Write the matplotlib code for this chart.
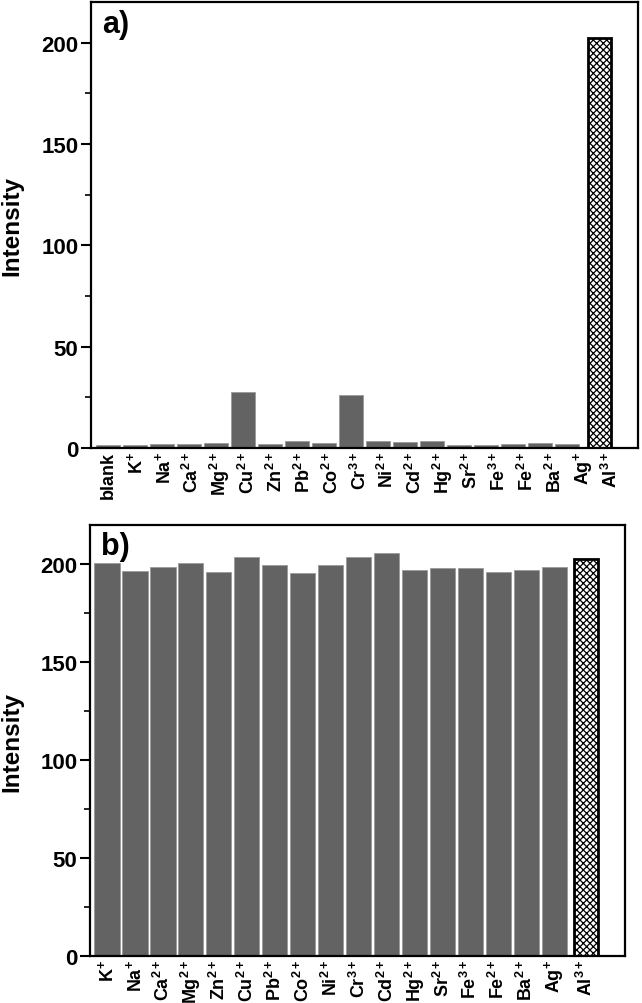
import numpy as np
import matplotlib
matplotlib.use("Agg")
import matplotlib.pyplot as plt
from matplotlib.ticker import MultipleLocator

plt.rcParams['font.family'] = ['Liberation Sans', 'DejaVu Sans']
plt.rcParams['font.weight'] = 'bold'
plt.rcParams['mathtext.fontset'] = 'custom'
plt.rcParams['mathtext.rm'] = 'Liberation Sans:bold'
plt.rcParams['mathtext.bf'] = 'Liberation Sans:bold'
plt.rcParams['mathtext.it'] = 'Liberation Sans:bold'
plt.rcParams['hatch.linewidth'] = 0.9

# ---- Data ----
labels_a = ['blank', r'$\mathbf{K^{+}}$', r'$\mathbf{Na^{+}}$', r'$\mathbf{Ca^{2+}}$', r'$\mathbf{Mg^{2+}}$',
            r'$\mathbf{Cu^{2+}}$', r'$\mathbf{Zn^{2+}}$', r'$\mathbf{Pb^{2+}}$', r'$\mathbf{Co^{2+}}$',
            r'$\mathbf{Cr^{3+}}$', r'$\mathbf{Ni^{2+}}$', r'$\mathbf{Cd^{2+}}$', r'$\mathbf{Hg^{2+}}$',
            r'$\mathbf{Sr^{2+}}$', r'$\mathbf{Fe^{3+}}$', r'$\mathbf{Fe^{2+}}$', r'$\mathbf{Ba^{2+}}$',
            r'$\mathbf{Ag^{+}}$', r'$\mathbf{Al^{3+}}$']
values_a = [1.5, 1.7, 2.2, 1.8, 2.3, 27.5, 2.2, 3.5, 2.3, 26.0, 3.4, 2.9, 3.4, 1.7, 1.7, 2.2, 2.5, 2.2]
al_a = 202

labels_b = [r'$\mathbf{K^{+}}$', r'$\mathbf{Na^{+}}$', r'$\mathbf{Ca^{2+}}$', r'$\mathbf{Mg^{2+}}$',
            r'$\mathbf{Zn^{2+}}$', r'$\mathbf{Cu^{2+}}$', r'$\mathbf{Pb^{2+}}$', r'$\mathbf{Co^{2+}}$',
            r'$\mathbf{Ni^{2+}}$', r'$\mathbf{Cr^{3+}}$', r'$\mathbf{Cd^{2+}}$', r'$\mathbf{Hg^{2+}}$',
            r'$\mathbf{Sr^{2+}}$', r'$\mathbf{Fe^{3+}}$', r'$\mathbf{Fe^{2+}}$', r'$\mathbf{Ba^{2+}}$',
            r'$\mathbf{Ag^{+}}$', r'$\mathbf{Al^{3+}}$']
values_b = [200.8, 196.3, 198.7, 200.7, 196.0, 203.8, 199.8, 195.3, 199.7, 203.8, 205.8,
            196.8, 197.8, 198.2, 195.8, 196.8, 198.5]
al_b = 202.5

W, H = 642, 1004
fig = plt.figure(figsize=(W / 100, H / 100), dpi=100)

def axes_px(l, r, t, b):
    return fig.add_axes([l / W, 1 - b / H, (r - l) / W, (b - t) / H])

GRAY = '#636363'

def style(ax, tag):
    ax.set_ylim(0, 220)
    ax.yaxis.set_major_locator(MultipleLocator(50))
    ax.yaxis.set_minor_locator(MultipleLocator(25))
    ax.tick_params(axis='y', which='major', direction='out', length=7, width=1.5,
                   labelsize=16, pad=2, right=False)
    ax.tick_params(axis='y', which='minor', direction='out', length=4, width=1.2, right=False)
    ax.tick_params(axis='x', which='both', length=0, labelsize=13, pad=2, rotation=90)
    for s in ax.spines.values():
        s.set_linewidth(1.6)
    for t in ax.get_yticklabels():
        t.set_fontweight('bold')
    ax.set_ylabel('Intensity', fontsize=17.5, fontweight='bold')
    ax.text(0.02, 0.985, tag, transform=ax.transAxes, fontsize=22, fontweight='bold',
            va='top', ha='left')

# ---- Panel a ----
ax1 = axes_px(91, 638, 3, 449)
xa = np.arange(len(values_a))
ax1.bar(xa, values_a, width=0.88, color=GRAY, edgecolor='#9a9a9a', linewidth=0.6)
ax1.bar([len(values_a) + 0.22], [al_a], width=0.85, color='white', edgecolor='black',
        hatch='xxxxx', linewidth=2.0)
ax1.set_xlim(-0.63, 19.63)
ax1.set_xticks(np.arange(len(labels_a)) * 1.035)
ax1.set_xticklabels(labels_a)
style(ax1, 'a)')
ax1.yaxis.set_label_coords(-0.124, 0.5)

# ---- Panel b ----
ax2 = axes_px(90, 625, 526, 957)
xb = np.arange(len(values_b))
ax2.bar(xb, values_b, width=0.9, color=GRAY, edgecolor='#9a9a9a', linewidth=0.6)
ax2.bar([len(values_b) + 0.13], [al_b], width=0.85, color='white', edgecolor='black',
        hatch='xxxxx', linewidth=2.0)
ax2.set_xlim(-0.61, 18.53)
ax2.set_xticks(list(xb) + [len(values_b) + 0.13])
ax2.set_xticklabels(labels_b)
style(ax2, 'b)')
ax2.yaxis.set_label_coords(-0.125, 0.5)

fig.savefig('out.png', dpi=100)
